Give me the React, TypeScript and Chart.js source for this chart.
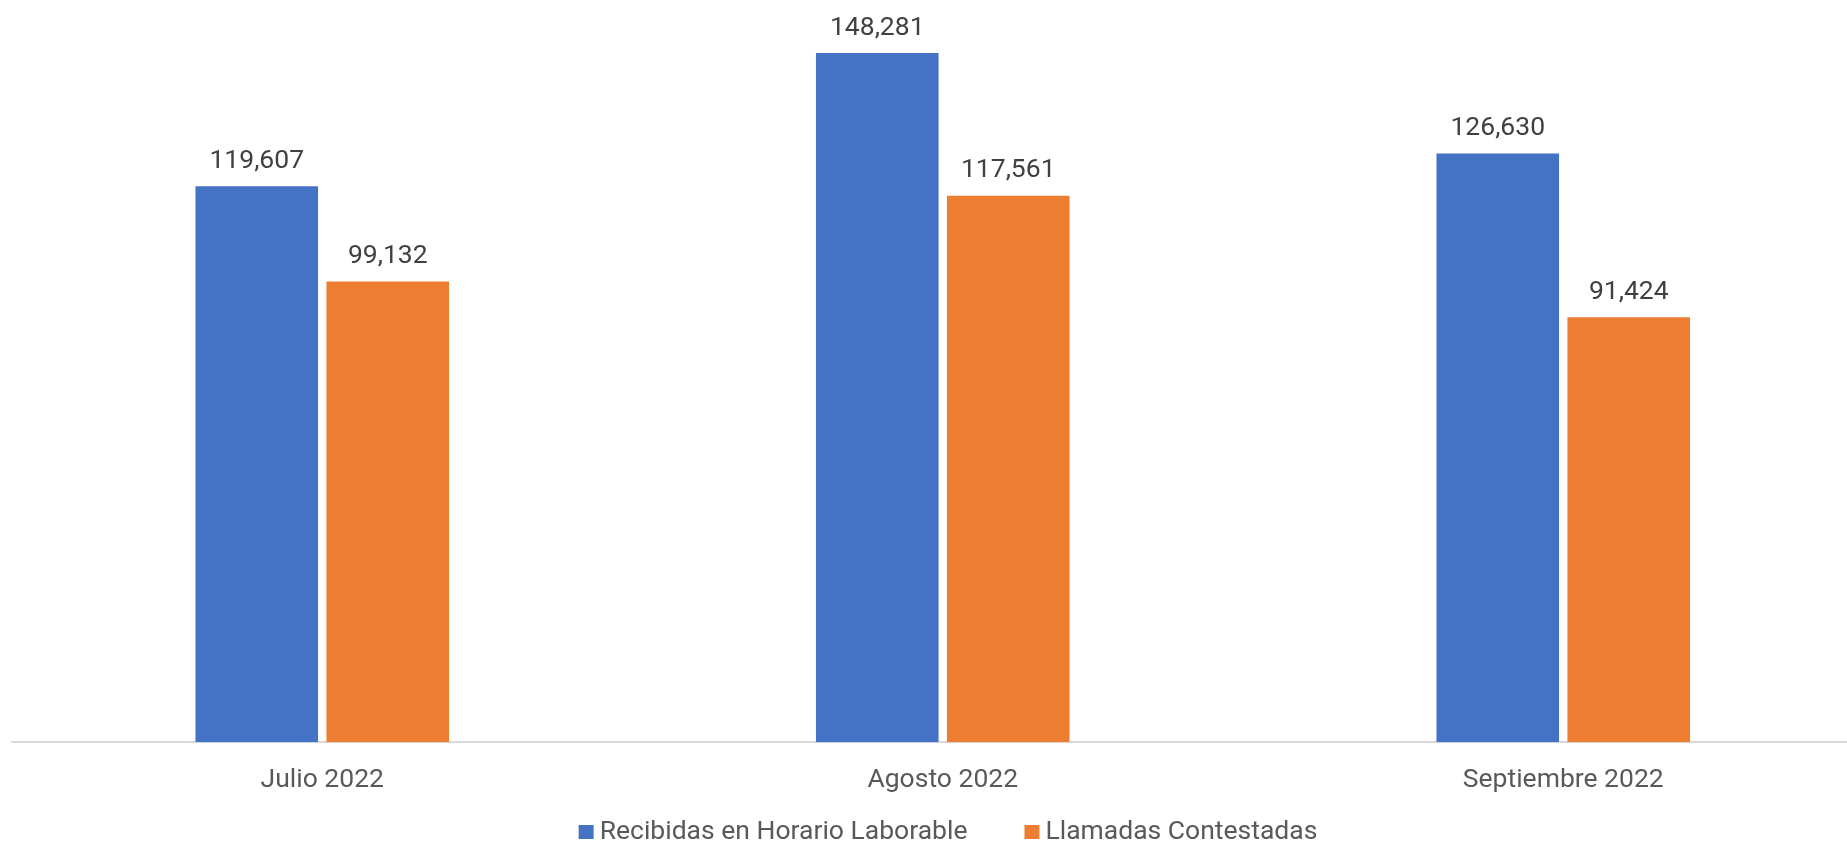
import React, { useEffect, useRef } from "react";
import { Chart, registerables } from "chart.js";

Chart.register(...registerables);

const categories = ["Julio 2022", "Agosto 2022", "Septiembre 2022"];
const seriesNames = ["Recibidas en Horario Laborable", "Llamadas Contestadas"];
const recibidas = [119607, 148281, 126630];
const contestadas = [99132, 117561, 91424];
const colors = ["#4472C4", "#ED7D31"];

const FONT = "Roboto";
const FS = 26.5;

const dataLabelPlugin = {
  id: "dataLabels",
  afterDatasetsDraw(chart: any) {
    const ctx = chart.ctx;
    ctx.save();
    ctx.font = `${FS}px ${FONT}`;
    ctx.fillStyle = "#404040";
    ctx.textAlign = "center";
    ctx.textBaseline = "alphabetic";
    chart.data.datasets.forEach((ds: any, i: number) => {
      const meta = chart.getDatasetMeta(i);
      meta.data.forEach((bar: any, j: number) => {
        ctx.fillText(Number(ds.data[j]).toLocaleString("en-US"), bar.x, bar.y - 18.4);
      });
    });
    ctx.restore();
  },
};

const legendPlugin = {
  id: "customLegend",
  afterDraw(chart: any) {
    const ctx = chart.ctx;
    ctx.save();
    ctx.font = `${FS}px ${FONT}`;
    const boxW = 15;
    const boxH = 14;
    const gap = 6;
    const itemGap = 57;
    const widths = chart.data.datasets.map((ds: any) => ctx.measureText(ds.label).width);
    const total =
      widths.reduce((a: number, w: number) => a + boxW + gap + w, 0) + itemGap * (widths.length - 1);
    let x = chart.width / 2 - total / 2;
    const baseline = chart.height - 5;
    chart.data.datasets.forEach((ds: any, i: number) => {
      ctx.fillStyle = ds.backgroundColor;
      ctx.fillRect(x, baseline - boxH, boxW, boxH);
      x += boxW + gap;
      ctx.fillStyle = "#595959";
      ctx.textAlign = "left";
      ctx.textBaseline = "alphabetic";
      ctx.fillText(ds.label, x, baseline);
      x += widths[i] + itemGap;
    });
    ctx.restore();
  },
};

export default function App() {
  const ref = useRef<HTMLCanvasElement | null>(null);

  useEffect(() => {
    if (!ref.current) return;
    const chart = new Chart(ref.current, {
      type: "bar",
      data: {
        labels: categories,
        datasets: [
          { label: seriesNames[0], data: recibidas, backgroundColor: colors[0], borderWidth: 0 },
          { label: seriesNames[1], data: contestadas, backgroundColor: colors[1], borderWidth: 0 },
        ],
      },
      options: {
        animation: false,
        responsive: false,
        devicePixelRatio: 1,
        layout: { padding: { top: 37, left: 4, right: 14.5, bottom: 26 } },
        plugins: {
          legend: { display: false },
          tooltip: { enabled: false },
        },
        datasets: {
          bar: { categoryPercentage: 0.4222, barPercentage: 0.936 },
        },
        scales: {
          x: {
            type: "category",
            offset: true,
            grid: { display: false, drawTicks: false },
            border: { display: true, color: "#d9d9d9", width: 2 },
            ticks: {
              color: "#595959",
              font: { family: FONT, size: FS },
              padding: 22,
              maxRotation: 0,
              autoSkip: false,
            },
          },
          y: {
            display: false,
            min: 0,
            max: 150000,
          },
        },
      },
      plugins: [dataLabelPlugin, legendPlugin],
    } as any);
    return () => chart.destroy();
  }, []);

  return (
    <div
      style={{
        position: "fixed",
        left: 0,
        top: 0,
        width: 1847,
        height: 844,
        overflow: "hidden",
        background: "#ffffff",
      }}
    >
      <canvas
        ref={ref}
        width={1880}
        height={836}
        style={{ position: "absolute", left: 8, top: 8, width: 1880, height: 836 }}
      />
    </div>
  );
}
